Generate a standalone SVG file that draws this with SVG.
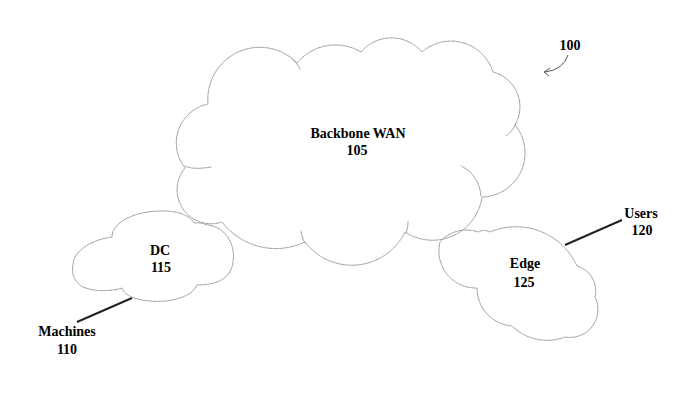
<svg xmlns="http://www.w3.org/2000/svg" width="694" height="408" viewBox="0 0 694 408">
<style>
.cloud{fill:none;stroke:#999;stroke-width:1;stroke-dasharray:1.5 1;stroke-linecap:round}
.lbl{font-family:"Liberation Serif","Times New Roman",serif;font-weight:bold;font-size:14px;fill:#000;text-anchor:middle}
.lead{stroke:#222;stroke-width:2;fill:none}
.ref{stroke:#555;stroke-width:1;fill:none}
</style>
<rect width="694" height="408" fill="#fff"/>
<g id="backbone-wan-105">
<path class="cloud" d="M185,168 A40,40 0 0,1 208,104 A52,52 0 0,1 297,63 A50,50 0 0,1 361,52 A40,40 0 0,1 422,52 A44,44 0 0,1 493,72 A36,36 0 0,1 515,125 A44,44 0 0,1 482,197 A50,50 0 0,1 405,232 A59,59 0 0,1 305,242 A68,68 0 0,1 222,222 A34,34 0 0,1 185,168 Z"/>
<path class="cloud" d="M185,166 Q193,170 211,167 M293,60 Q297,63 300,69 M516,123 Q513,131 506,136 M481,196 Q479,175 461,166 M406,233 Q408,228 408,221 M305,243 Q302,238 301,231"/>
<text class="lbl" x="358" y="138">Backbone WAN</text>
<text class="lbl" x="357" y="155">105</text>
</g>
<g id="dc-115">
<path class="cloud" d="M73,265 C73,252 90,240 112,237 C112,222 135,211 162,211 C180,211 190,216 194,223 Q200,222 207,225 C225,226 236,245 233,262 C231,278 218,285 197,285 C192,297 170,303 150,301 C135,300 124,295 122,288 C110,292 85,292 78,283 C72,277 72,270 73,265 Z"/>
<text class="lbl" x="160" y="255">DC</text>
<text class="lbl" x="161" y="272">115</text>
</g>
<g id="edge-125">
<path class="cloud" d="M440,242 A35,35 0 0,1 478,232 Q484,229 490,232 A67,67 0 0,1 577,266 A26,26 0 0,1 595,297 A28,28 0 0,1 565,337 A50,50 0 0,1 512,326 A38,38 0 0,1 477,288 A37,37 0 0,1 440,242 Z"/>
<text class="lbl" x="525" y="268">Edge</text>
<text class="lbl" x="524" y="287">125</text>
</g>
<g id="machines-110">
<text class="lbl" x="67" y="336">Machines</text>
<text class="lbl" x="67" y="354">110</text>
</g>
<g id="users-120">
<text class="lbl" x="641" y="218">Users</text>
<text class="lbl" x="642" y="235">120</text>
</g>
<g id="ref-100">
<text class="lbl" x="570" y="50">100</text>
</g>
<g id="connectors">
<path class="lead" d="M132,298 L77,322"/>
<path class="lead" d="M565,245 L622,220"/>
<path class="ref" d="M568,55 Q563,70 545,72 M550,68 L544,72 L549,76"/>
</g>
</svg>
